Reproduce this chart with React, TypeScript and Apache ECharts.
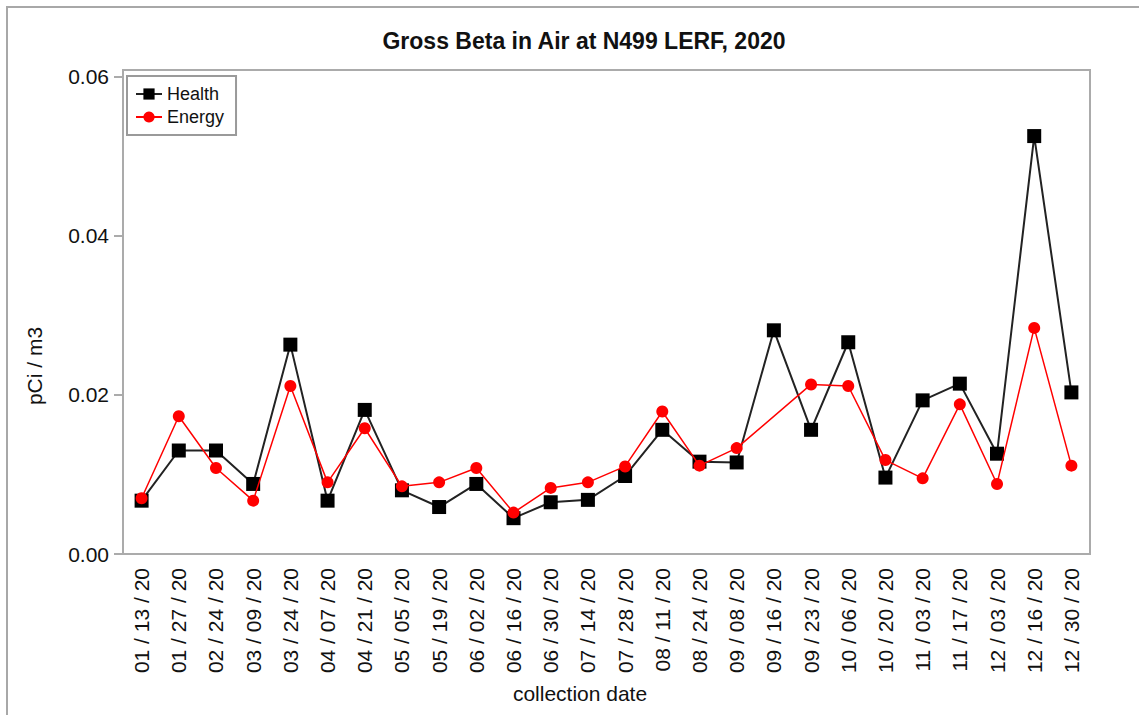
import React, { useEffect, useRef } from "react";
import * as echarts from "echarts";

const categories = [
  "01 / 13 / 20", "01 / 27 / 20", "02 / 24 / 20", "03 / 09 / 20", "03 / 24 / 20",
  "04 / 07 / 20", "04 / 21 / 20", "05 / 05 / 20", "05 / 19 / 20", "06 / 02 / 20",
  "06 / 16 / 20", "06 / 30 / 20", "07 / 14 / 20", "07 / 28 / 20", "08 / 11 / 20",
  "08 / 24 / 20", "09 / 08 / 20", "09 / 16 / 20", "09 / 23 / 20", "10 / 06 / 20",
  "10 / 20 / 20", "11 / 03 / 20", "11 / 17 / 20", "12 / 03 / 20", "12 / 16 / 20",
  "12 / 30 / 20",
];

const healthValues = [
  0.0067, 0.0130, 0.0130, 0.0088, 0.0263, 0.0067, 0.0181, 0.0080, 0.0059, 0.0088,
  0.0045, 0.0065, 0.0068, 0.0098, 0.0156, 0.0116, 0.0115, 0.0281, 0.0156, 0.0266,
  0.0096, 0.0193, 0.0214, 0.0126, 0.0525, 0.0203,
];

const energyValues: (number | string)[] = [
  0.0070, 0.0173, 0.0108, 0.0067, 0.0211, 0.0090, 0.0158, 0.0085, 0.0090, 0.0108,
  0.0052, 0.0083, 0.0090, 0.0110, 0.0179, 0.0111, 0.0133, "-", 0.0213, 0.0211,
  0.0118, 0.0095, 0.0188, 0.0088, 0.0284, 0.0111,
];

const yTicks = [0, 0.02, 0.04, 0.06];
const yMax = 0.0608;

const FONT = "'Liberation Sans', Arial, sans-serif";
const AXIS_GREY = "#ababab";

export default function App() {
  const ref = useRef<HTMLDivElement>(null);

  useEffect(() => {
    if (!ref.current) return;
    const chart = echarts.init(ref.current, undefined, { renderer: "svg" });
    const option: any = {
      animation: false,
      backgroundColor: "#ffffff",
      textStyle: { fontFamily: FONT },
      title: {
        text: "Gross Beta in Air at N499 LERF, 2020",
        left: 579,
        textAlign: "center",
        top: 24,
        textStyle: { fontFamily: FONT, fontSize: 23, fontWeight: "bold", color: "#111" },
      },
      legend: {
        orient: "vertical",
        left: 127,
        top: 76,
        padding: [9, 12, 9, 8],
        itemGap: 5,
        itemWidth: 26,
        itemHeight: 14,
        borderColor: "#9a9a9a",
        borderWidth: 2,
        backgroundColor: "#fff",
        textStyle: { fontFamily: FONT, fontSize: 18, color: "#111", padding: [0, 0, 0, 0] },
        data: ["Health", "Energy"],
      },
      grid: {
        left: 123,
        right: 49,
        top: 70,
        bottom: 161,
        show: true,
        borderColor: AXIS_GREY,
        borderWidth: 2,
        backgroundColor: "transparent",
      },
      xAxis: {
        type: "category",
        data: categories,
        boundaryGap: true,
        axisLine: { lineStyle: { color: AXIS_GREY, width: 2 } },
        axisTick: { alignWithLabel: true, length: 8, lineStyle: { color: AXIS_GREY, width: 2 } },
        axisLabel: {
          interval: 0,
          rotate: 90,
          margin: 14,
          fontFamily: FONT,
          fontSize: 21,
          color: "#111",
        },
        splitLine: { show: false },
      },
      yAxis: {
        type: "value",
        min: 0,
        max: yMax,
        axisLine: { show: true, lineStyle: { color: AXIS_GREY, width: 2 } },
        axisTick: { show: true, length: 9, customValues: yTicks, lineStyle: { color: AXIS_GREY, width: 2 } },
        axisLabel: {
          customValues: yTicks,
          margin: 14,
          fontFamily: FONT,
          fontSize: 21,
          color: "#111",
          formatter: (v: number) => v.toFixed(2),
        },
        splitLine: { show: false },
      },
      graphic: [
        {
          type: "polyline",
          shape: { points: [[7, 715], [7, 7], [1139, 7]] },
          style: { stroke: "#a8a8a8", lineWidth: 2, fill: "none" },
          silent: true,
        },
        {
          type: "text",
          x: 34,
          y: 366,
          rotation: Math.PI / 2,
          style: {
            text: "pCi / m3",
            align: "center",
            verticalAlign: "middle",
            font: `21px ${FONT}`,
            fill: "#111",
          },
        },
        {
          type: "text",
          x: 580,
          y: 693,
          style: {
            text: "collection date",
            align: "center",
            verticalAlign: "middle",
            font: `21px ${FONT}`,
            fill: "#111",
          },
        },
      ],
      series: [
        {
          name: "Health",
          type: "line",
          data: healthValues,
          symbol: "rect",
          symbolSize: 14,
          itemStyle: { color: "#000" },
          lineStyle: { color: "#222", width: 2 },
          z: 2,
        },
        {
          name: "Energy",
          type: "line",
          data: energyValues,
          connectNulls: true,
          symbol: "circle",
          symbolSize: 12,
          itemStyle: { color: "#ff0000" },
          lineStyle: { color: "#ff0000", width: 1.5 },
          z: 3,
        },
      ],
    };
    chart.setOption(option);
    return () => chart.dispose();
  }, []);

  return (
    <div
      ref={ref}
      style={{ position: "fixed", left: 0, top: 0, width: 1139, height: 715, background: "#fff" }}
    />
  );
}
